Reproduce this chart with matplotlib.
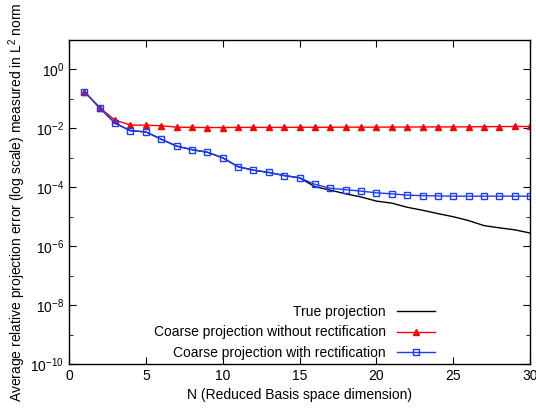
import numpy as np
import matplotlib
matplotlib.use("Agg")
import matplotlib.pyplot as plt
from matplotlib.ticker import NullFormatter, FixedLocator

plt.rcParams['font.family'] = ['Liberation Sans', 'DejaVu Sans']
plt.rcParams['font.size'] = 10
plt.rcParams['mathtext.fontset'] = 'custom'
plt.rcParams['mathtext.rm'] = 'Liberation Sans'

# Reduced basis dimension
N = list(range(1, 31))

# True projection error
true_proj = [0.178, 0.050, 0.015, 0.0083, 0.0076, 0.0043, 0.0025, 0.0019, 0.00155, 0.0010,
             0.00050, 0.00038, 0.00032, 0.00025, 0.00021, 1.05e-4, 8.0e-5, 6.0e-5, 4.7e-5, 3.4e-5,
             2.9e-5, 2.1e-5, 1.66e-5, 1.28e-5, 1.0e-5, 7.4e-6, 5.0e-6, 4.2e-6, 3.6e-6, 2.8e-6]

# Coarse projection without rectification
coarse_no_rect = [0.178, 0.050, 0.019, 0.0130, 0.0128, 0.0123, 0.0110, 0.0108, 0.0107, 0.0107,
                  0.0108, 0.0108, 0.0108, 0.0108, 0.0109, 0.0109, 0.0109, 0.0110, 0.0110, 0.0110,
                  0.0111, 0.0111, 0.0112, 0.0112, 0.0112, 0.0113, 0.0114, 0.0115, 0.0116, 0.0116]

# Coarse projection with rectification
coarse_rect = [0.178, 0.050, 0.015, 0.0083, 0.0076, 0.0043, 0.0025, 0.0019, 0.00155, 0.0010,
               0.00050, 0.00038, 0.00032, 0.00025, 0.00021, 1.26e-4, 9.3e-5, 8.3e-5, 7.4e-5, 6.5e-5,
               6.0e-5, 5.4e-5, 5.2e-5, 5.1e-5, 5.0e-5, 5.0e-5, 5.0e-5, 5.0e-5, 5.0e-5, 5.0e-5]

fig = plt.figure(figsize=(5.36, 4.13), dpi=100)
ax = fig.add_axes([0.1287, 0.1186, 0.8603, 0.7845])

ax.plot(N, true_proj, color='black', lw=1.0, label='True projection')
ax.plot(N, coarse_no_rect, color='#ff0000', lw=1.0, marker='^', ms=5,
        mfc='#ff0000', mec='#ff0000', label='Coarse projection without rectification')
ax.plot(N, coarse_rect, color='#1a3cff', lw=1.0, marker='s', ms=5,
        mfc='none', mec='#1a3cff', mew=1.0, label='Coarse projection with rectification')

ax.set_yscale('log')
ax.set_xlim(0, 30)
ax.set_ylim(1e-10, 1e1)
ax.set_xticks([0, 5, 10, 15, 20, 25, 30])
ax.yaxis.set_major_locator(FixedLocator([1e-10, 1e-8, 1e-6, 1e-4, 1e-2, 1e0]))
ax.yaxis.set_minor_locator(FixedLocator([1e-9, 1e-7, 1e-5, 1e-3, 1e-1]))
ax.yaxis.set_minor_formatter(NullFormatter())
ax.tick_params(which='both', direction='in', top=True, right=True)
ax.tick_params(which='major', length=5)
ax.tick_params(which='minor', length=3)
for s in ax.spines.values():
    s.set_linewidth(1.0)

ax.set_xlabel('N (Reduced Basis space dimension)')
ax.set_ylabel('Average relative projection error (log scale) measured in L$^2$ norm', labelpad=2)

ax.legend(loc='lower right', frameon=False, markerfirst=False, handlelength=2.7,
          bbox_to_anchor=(0.82, -0.025), labelspacing=0.45)

fig.savefig('out.png', dpi=100)
